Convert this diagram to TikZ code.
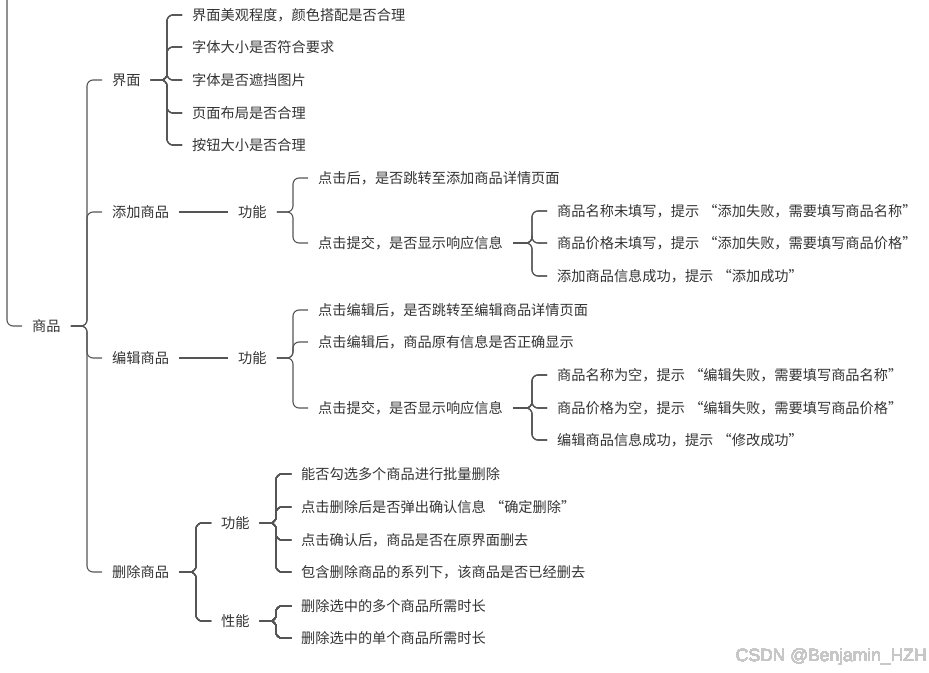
\documentclass[tikz,border=0pt]{standalone}
\usepackage{fontspec}
\setmainfont{Noto Sans CJK SC}
\newfontfamily\markfont{Liberation Sans}
\usepackage{tikz}
\definecolor{txt}{RGB}{51,51,51}
\definecolor{ln}{RGB}{85,85,85}
\def\topic{\node[topic]}
\def\branch#1#2{\draw[link] (#1.east) -| ([xshift=-15pt]#2.west) -- (#2.west);}
\newcommand\qleft{\hspace{.3em}“}
\newcommand\qright{”\hspace{.3em}}

\begin{document}
\begin{tikzpicture}[x=1pt,y=-1pt,
  topic/.style={anchor=west,inner xsep=10pt,inner ysep=2pt,text=txt,font=\fontsize{14.2}{16}\selectfont},
  link/.style={draw=ln,line width=1.1pt,rounded corners=6pt}]
\useasboundingbox (0,0) rectangle (929,672);
% root
\coordinate (top) at (7,0);
\topic (sp) at (22,326) {商品};
\draw[link] (top) |- (sp.west);
% first level
\topic (jm) at (102,80) {界面};
\topic (tj) at (102,212) {添加商品};
\topic (bj) at (102,358) {编辑商品};
\topic (sc) at (102,572) {删除商品};
% 界面
\topic (jm1) at (182,15) {界面美观程度，颜色搭配是否合理};
\topic (jm2) at (182,47) {字体大小是否符合要求};
\topic (jm3) at (182,80) {字体是否遮挡图片};
\topic (jm4) at (182,113) {页面布局是否合理};
\topic (jm5) at (182,145) {按钮大小是否合理};
% 添加商品
\topic (tjgn) at (228,212) {功能};
\topic (tj1) at (308,178) {点击后，是否跳转至添加商品详情页面};
\topic (tj2) at (308,243) {点击提交，是否显示响应信息};
\topic (tj21) at (547,211) {商品名称未填写，提示\qleft 添加失败，需要填写商品名称\qright};
\topic (tj22) at (547,243) {商品价格未填写，提示\qleft 添加失败，需要填写商品价格\qright};
\topic (tj23) at (547,276) {添加商品信息成功，提示\qleft 添加成功\qright};
% 编辑商品
\topic (bjgn) at (228,358) {功能};
\topic (bj1) at (308,310) {点击编辑后，是否跳转至编辑商品详情页面};
\topic (bj2) at (308,342) {点击编辑后，商品原有信息是否正确显示};
\topic (bj3) at (308,408) {点击提交，是否显示响应信息};
\topic (bj31) at (547,375) {商品名称为空，提示\qleft 编辑失败，需要填写商品名称\qright};
\topic (bj32) at (547,408) {商品价格为空，提示\qleft 编辑失败，需要填写商品价格\qright};
\topic (bj33) at (547,440) {编辑商品信息成功，提示\qleft 修改成功\qright};
% 删除商品
\topic (scgn) at (211,523) {功能};
\topic (scxn) at (211,621) {性能};
\topic (sc1) at (291,474) {能否勾选多个商品进行批量删除};
\topic (sc2) at (291,507) {点击删除后是否弹出确认信息\qleft 确定删除\qright};
\topic (sc3) at (291,540) {点击确认后，商品是否在原界面删去};
\topic (sc4) at (291,572) {包含删除商品的系列下，该商品是否已经删去};
\topic (sc5) at (291,606) {删除选中的多个商品所需时长};
\topic (sc6) at (291,638) {删除选中的单个商品所需时长};
% connectors
\foreach \c in {jm,tj,bj,sc} \branch{sp}{\c}
\foreach \c in {jm1,jm2,jm3,jm4,jm5} \branch{jm}{\c}
\draw[link] (tj) -- (tjgn);
\foreach \c in {tj1,tj2} \branch{tjgn}{\c}
\foreach \c in {tj21,tj22,tj23} \branch{tj2}{\c}
\draw[link] (bj) -- (bjgn);
\foreach \c in {bj1,bj2,bj3} \branch{bjgn}{\c}
\foreach \c in {bj31,bj32,bj33} \branch{bj3}{\c}
\foreach \c in {scgn,scxn} \branch{sc}{\c}
\foreach \c in {sc1,sc2,sc3,sc4} \branch{scgn}{\c}
\foreach \c in {sc5,sc6} \branch{scxn}{\c}
% watermark
\node[anchor=east,text=black!22,font=\markfont\fontsize{17.5}{20}\selectfont,inner sep=0pt] (mark) at (927,657) {CSDN @Benjamin\_HZH};
\end{tikzpicture}
\end{document}
